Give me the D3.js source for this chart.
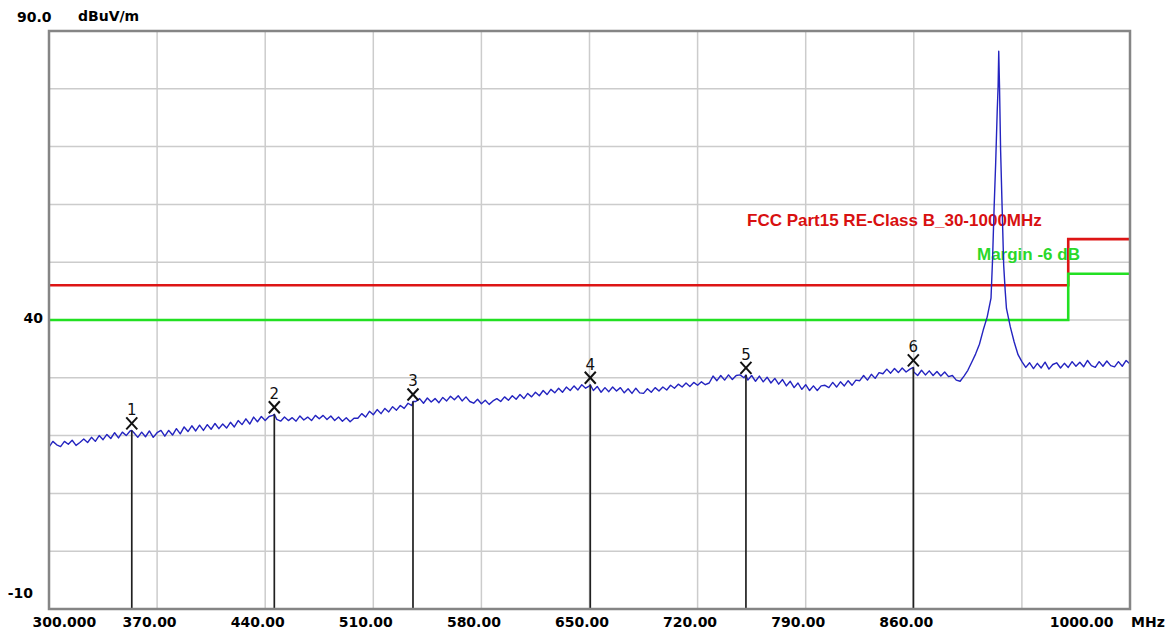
<!DOCTYPE html>
<html><head><meta charset="utf-8">
<script src="https://cdn.jsdelivr.net/npm/d3@7"></script>
<style>
html,body{margin:0;padding:0;background:#fff;}
svg{display:block;}
</style></head>
<body><svg id="chart" width="1174" height="635"></svg>
<script>
// ---- data ----
const lowSweepStart = 300, sweepStep = 2.5;
const lowSweepLevels = [
 18.0,19.0,18.4,18.1,19.0,18.5,19.2,18.3,18.8,19.4,
 18.8,19.7,19.0,20.0,19.3,20.2,19.5,20.5,19.6,20.6,
 20.0,20.8,20.5,19.7,20.6,19.8,20.8,19.7,20.5,20.9,
 19.9,20.9,20.1,21.2,20.3,21.5,20.7,21.7,20.8,21.8,
 20.9,21.9,21.1,22.1,21.2,22.0,21.3,22.3,21.5,22.6,
 21.9,22.9,22.0,23.2,22.4,23.3,22.6,23.3,23.5,22.8,
 22.5,23.2,22.6,23.1,22.5,23.4,22.7,23.2,22.6,23.5,
 22.9,23.5,22.8,23.4,22.6,23.2,22.5,23.1,22.4,23.0,
 23.0,23.8,23.2,24.2,23.6,24.5,23.8,24.7,24.1,25.0,
 24.4,25.2,24.7,25.6,25.2,25.9,26.4,25.6,26.5,25.8,
 26.4,25.7,26.6,26.0,26.8,26.2,26.9,26.0,26.7,25.9,
 25.6,26.3,25.5,26.1,25.4,26.0,26.4,25.9,26.7,26.1,
 26.9,26.3,27.1,26.4,27.3,26.7,27.5,26.9,27.8,27.1,
 28.0,27.4,28.2,27.5,28.4,27.8,28.6,27.9,28.8,28.2,
 28.6,27.8,28.5,27.5,28.3,27.6,28.4,27.7,28.3,27.4,
 28.1,27.3,28.2,27.4,27.3,28.1,27.5,28.3,27.7,28.4,
 27.9,28.7,28.2,28.9,28.4,29.1,28.5,29.2,28.7,29.3,
 28.8,29.1,30.3,29.5,30.4,29.6,30.5,29.7,30.4,30.5,
 30.0,29.6,30.4,29.4,30.3,29.3,30.1,29.1,29.9,28.9,
 29.7,28.6,29.4,28.3,29.1,28.0,28.8,27.8,28.6,27.8,
 28.6,28.7,28.3,29.2,28.4,29.3,28.6,29.5,28.7,29.6,
 29.5,30.4,29.6,30.6,29.9,30.9,30.7,31.5,30.8,31.6,
 30.9,31.7,31.0,31.5,31.0,30.4,31.3,30.5,31.2,30.4,
 31.1,30.3,31.0,30.2,30.4,29.6,29.4,30.3,31.3,32.7,
 34.1,35.8,38.3,40.5,43.8
];
const peakFreqs  = [911, 912, 913, 914, 914.6, 915.0, 915.5, 916.2, 917.2, 918.2, 919.2, 920, 922.5, 925, 927.5];
const peakLevels = [50.5, 59.4, 67, 76, 80.5, 86.5, 80.5, 69.5, 59.4, 49.5, 45.0, 42.0, 38.8, 36.2, 34.0];
const highSweepStart = 930;
const highSweepLevels = [
 32.8,31.8,32.6,31.6,32.5,31.7,32.7,31.5,32.3,32.6,
 31.7,32.5,31.8,32.8,32.0,32.7,31.9,33.0,32.1,31.8,
 32.8,32.0,32.9,32.1,31.9,32.8,32.0,33.0,32.4
];
const markerIds    = ["1","2","3","4","5","6"];
const markerFreqs  = [353.6, 445.9, 535.7, 650.5, 751.3, 859.7];
const markerLevels = [20.9, 23.7, 25.9, 28.8, 30.5, 31.8];
const limitFreqs  = [300, 960, 1000];
const limitLevels = [46, 54];
const marginDb = -6;
const limitLabel = "FCC Part15 RE-Class B_30-1000MHz";
const marginLabel = "Margin -6 dB";
const xTickValues = [300, 370, 440, 510, 580, 650, 720, 790, 860, 1000];
const xTickLabels = ["300.000","370.00","440.00","510.00","580.00","650.00","720.00","790.00","860.00","1000.00"];
const xUnit = "MHz";
const yTickValues = [90, 40, -10];
const yTickLabels = ["90.0", "40", "-10"];
const yUnit = "dBuV/m";
const xGridValues = [370, 440, 510, 580, 650, 720, 790, 860, 930];
const yGridValues = [0, 10, 20, 30, 40, 50, 60, 70, 80];

// ---- layout ----
const L = 49, R = 1130, T = 31, B = 609;
const svg = d3.select("#chart");
const x = d3.scaleLinear().domain([300, 1000]).range([L, R]);
const y = d3.scaleLinear().domain([-10, 90]).range([B, T]);

// trace points
const trace = [];
lowSweepLevels.forEach((v, i) => trace.push({f: lowSweepStart + i * sweepStep, v}));
peakFreqs.forEach((f, i) => trace.push({f, v: peakLevels[i]}));
highSweepLevels.forEach((v, i) => trace.push({f: highSweepStart + i * sweepStep, v}));
markerFreqs.forEach((f, i) => trace.push({f, v: markerLevels[i]}));
trace.sort((a, b) => a.f - b.f);

// grid
const grid = svg.append("g");
grid.selectAll("line.vg").data(xGridValues).join("line")
  .attr("x1", d => x(d)).attr("x2", d => x(d)).attr("y1", T).attr("y2", B)
  .attr("stroke", "#cccccc").attr("stroke-width", 1.5);
grid.selectAll("line.hg").data(yGridValues).join("line")
  .attr("y1", d => y(d)).attr("y2", d => y(d)).attr("x1", L).attr("x2", R)
  .attr("stroke", "#cccccc").attr("stroke-width", 1.5);

// axes (labels only)
const xAxis = d3.axisBottom(x).tickValues(xTickValues).tickSize(0)
  .tickFormat((d, i) => xTickLabels[i]);
const gx = svg.append("g").attr("transform", `translate(0,${B})`).call(xAxis);
gx.select(".domain").remove();
gx.selectAll("text")
  .attr("font-family", "DejaVu Sans").attr("font-weight", "bold").attr("font-size", 14)
  .attr("fill", "#000").attr("y", 18).attr("dy", 0)
  .attr("text-anchor", (d, i) => i === 0 ? "start" : (i === xTickValues.length - 1 ? "end" : "middle"))
  .attr("dx", (d, i) => i === 0 ? -17 : (i === xTickValues.length - 1 ? -17 : -8));
svg.append("text").attr("x", R + 1).attr("y", B + 18).text(xUnit)
  .attr("font-family", "DejaVu Sans").attr("font-weight", "bold").attr("font-size", 14);

const yAxis = d3.axisLeft(y).tickValues(yTickValues).tickSize(0)
  .tickFormat((d, i) => yTickLabels[i]);
const gy = svg.append("g").attr("transform", `translate(${L},0)`).call(yAxis);
gy.select(".domain").remove();
gy.selectAll("text")
  .attr("font-family", "DejaVu Sans").attr("font-weight", "bold").attr("font-size", 14)
  .attr("fill", "#000").attr("dy", 0)
  .attr("x", (d, i) => i === 0 ? -32 : (i === 1 ? -6 : -16))
  .attr("text-anchor", (d, i) => i === 0 ? "start" : "end")
  .attr("y", (d, i) => i === 0 ? -10 : (i === 1 ? 2 : -12));
svg.append("text").attr("x", 78).attr("y", 21).text(yUnit)
  .attr("font-family", "DejaVu Sans").attr("font-weight", "bold").attr("font-size", 14);

// limit + margin lines
const limitData = limitFreqs.map((f, i) => ({f, v: limitLevels[Math.min(i, limitLevels.length - 1)]}));
const marginData = limitData.map(d => ({f: d.f, v: d.v + marginDb}));
const stepLine = d3.line().x(d => x(d.f)).y(d => y(d.v)).curve(d3.curveStepAfter);
svg.append("path").attr("d", stepLine(limitData)).attr("fill", "none")
  .attr("stroke", "#dd1515").attr("stroke-width", 2.6);
svg.append("path").attr("d", stepLine(marginData)).attr("fill", "none")
  .attr("stroke", "#22e022").attr("stroke-width", 2.6);

svg.append("text").attr("x", 747).attr("y", 226).text(limitLabel)
  .attr("font-family", "Liberation Sans").attr("font-weight", "bold").attr("font-size", 17)
  .attr("fill", "#d81010");
svg.append("text").attr("x", 977).attr("y", 260).text(marginLabel)
  .attr("font-family", "Liberation Sans").attr("font-weight", "bold").attr("font-size", 17)
  .attr("fill", "#2ad82a");

// trace
const line = d3.line().x(d => x(d.f)).y(d => y(d.v));
svg.append("path").attr("d", line(trace)).attr("fill", "none")
  .attr("stroke", "#2424c0").attr("stroke-width", 1.4).attr("stroke-linejoin", "round");

// markers
const mk = svg.append("g");
markerFreqs.forEach((f, i) => {
  const mx = x(f), my = y(markerLevels[i]);
  mk.append("line").attr("x1", mx).attr("x2", mx).attr("y1", my).attr("y2", B)
    .attr("stroke", "#202020").attr("stroke-width", 1.7);
  mk.append("line").attr("x1", mx - 5.5).attr("y1", my - 13).attr("x2", mx + 5.5).attr("y2", my - 1)
    .attr("stroke", "#111").attr("stroke-width", 2);
  mk.append("line").attr("x1", mx + 5.5).attr("y1", my - 13).attr("x2", mx - 5.5).attr("y2", my - 1)
    .attr("stroke", "#111").attr("stroke-width", 2);
  mk.append("text").attr("x", mx).attr("y", my - 15).attr("text-anchor", "middle")
    .attr("font-family", "DejaVu Sans").attr("font-size", 15).attr("fill", "#111")
    .text(markerIds[i]);
});

// frame
svg.append("rect").attr("x", L).attr("y", T).attr("width", R - L).attr("height", B - T)
  .attr("fill", "none").attr("stroke", "#858585").attr("stroke-width", 2.5);
</script>
</body></html>
